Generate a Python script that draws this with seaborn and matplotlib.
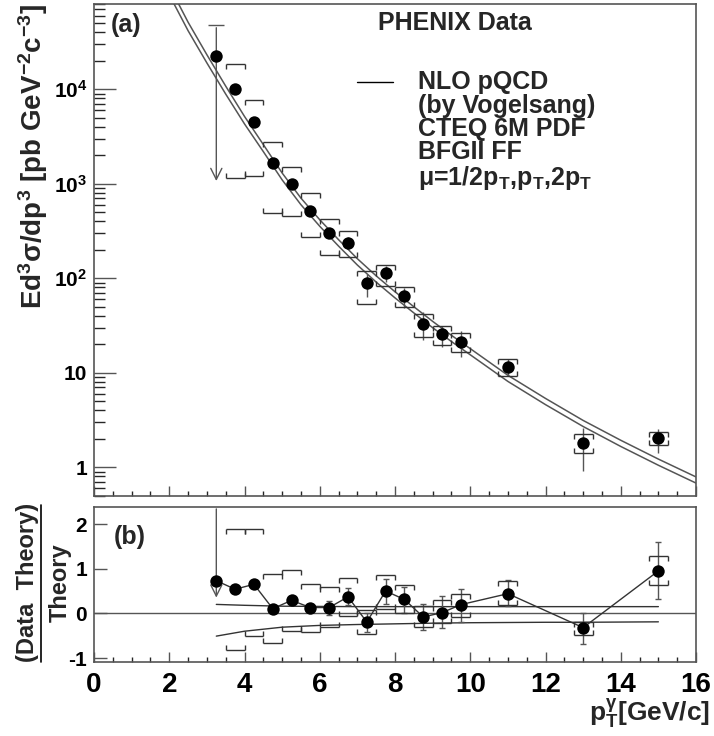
import numpy as np
import matplotlib
matplotlib.use("Agg")
import matplotlib.pyplot as plt
from matplotlib.ticker import LogLocator, MultipleLocator, FixedLocator, FixedFormatter, NullFormatter
from matplotlib.lines import Line2D
import seaborn as sns

# measured points (photon pT bins)
pt = [3.25, 3.75, 4.25, 4.75, 5.25, 5.75, 6.25, 6.75, 7.25, 7.75,
      8.25, 8.75, 9.25, 9.75, 11.0, 13.0, 15.0]
xsec = [22400, 10000, 4470, 1680, 1000, 520, 303, 238, 89, 114,
        65, 33, 25.7, 21, 11.5, 1.79, 2.02]
xsec_stat_lo = [1000, 9500, 4250, 1600, 950, 490, 270, 205, 64, 92,
                49, 22, 18.8, 14.8, 9.2, 0.92, 1.4]
xsec_stat_hi = [48000, 10500, 4700, 1760, 1050, 550, 335, 275, 110, 134,
                79, 44, 31, 27.6, 13.9, 2.6, 2.57]
xsec_sys_lo = [np.nan, 1140, 1200, 495, 460, 275, 178, 167, 54, 83,
               50, 24, 19.6, 16.6, 9.3, 1.4, 1.7]
xsec_sys_hi = [np.nan, 18400, 7650, 2740, 1490, 790, 420, 315, 120, 139,
               81, 42, 31, 26.4, 13.9, 2.24, 2.34]

# (data - theory) / theory
ratio = [0.73, 0.54, 0.65, 0.105, 0.29, 0.13, 0.13, 0.37, -0.195, 0.50,
         0.31, -0.08, 0.015, 0.195, 0.44, -0.32, 0.95]
ratio_stat_lo = [0.29, 0.49, 0.60, 0.06, 0.22, 0.06, -0.04, 0.18, -0.42, 0.22,
                 0.0, -0.38, -0.32, -0.195, 0.16, -0.68, 0.33]
ratio_stat_hi = [2.4, 0.59, 0.70, 0.15, 0.36, 0.20, 0.28, 0.57, 0.0, 0.76,
                 0.59, 0.22, 0.38, 0.55, 0.74, 0.0, 1.60]
ratio_sys_lo = [np.nan, -0.82, -0.51, -0.67, -0.40, -0.42, -0.31, -0.05, -0.47, 0.09,
                0.01, -0.31, -0.22, -0.08, 0.18, -0.48, 0.63]
ratio_sys_hi = [np.nan, 1.88, 1.88, 0.89, 0.98, 0.65, 0.58, 0.80, 0.08, 0.85,
                0.64, 0.16, 0.29, 0.44, 0.73, -0.195, 1.28]

# NLO pQCD curves
theory_x = [2.0, 2.5, 3.0, 3.5, 4.0, 4.5, 5.0, 5.5, 6.0, 6.5, 7.0, 7.5, 8.0,
            8.5, 9.0, 9.5, 10.0, 11.0, 12.0, 13.0, 14.0, 15.0, 16.0]
theory_mid = [100000, 41700, 19000, 8900, 4300, 2190, 1100, 600, 355, 219, 138, 91, 62,
              43, 30, 21.4, 15.5, 8.1, 4.6, 2.7, 1.66, 1.05, 0.68]
theory_up = [124000, 51300, 23200, 10800, 5160, 2600, 1300, 705, 416, 256, 161, 106, 72,
             50, 35, 24.9, 18, 9.4, 5.35, 3.13, 1.93, 1.22, 0.79]

# scale band relative to central theory
band_x = [3.25, 4, 5, 6, 7, 8, 9, 10, 11, 12, 13, 14, 15]
band_hi = [0.20, 0.18, 0.16, 0.155, 0.15, 0.15, 0.15, 0.15, 0.15, 0.15, 0.15, 0.15, 0.15]
band_lo = [-0.51, -0.40, -0.31, -0.27, -0.25, -0.235, -0.22, -0.21, -0.205, -0.2, -0.2, -0.195, -0.19]

ytick_vals = [1, 10, 100, 1000, 10000]
ytick_labels = ["1", "10", "$10^2$", "$10^3$", "$10^4$"]

sns.set_style("ticks")
plt.rcParams["font.family"] = ["Liberation Sans", "DejaVu Sans"]
plt.rcParams["font.weight"] = "bold"
plt.rcParams["axes.unicode_minus"] = False
plt.rcParams["mathtext.fontset"] = "custom"
plt.rcParams["mathtext.rm"] = "Liberation Sans:bold"
plt.rcParams["mathtext.bf"] = "Liberation Sans:bold"
plt.rcParams["mathtext.it"] = "Liberation Sans:bold"
plt.rcParams["mathtext.default"] = "rm"

GRAY = "#555555"
DARK = "#333333"
HW = 0.25


def brackets(ax, x, lo, hi):
    for xi, l, h in zip(x, lo, hi):
        if np.isnan(l):
            continue
        ax.hlines([l, h], xi - HW, xi + HW, color=DARK, lw=1.0, zorder=3)
        ax.plot([xi - HW, xi + HW], [h, h], ls="none", marker=3, ms=3.5, mew=1.0, color=DARK, zorder=3)
        ax.plot([xi - HW, xi + HW], [l, l], ls="none", marker=2, ms=3.5, mew=1.0, color=DARK, zorder=3)


def style_axes(ax):
    for s in ax.spines.values():
        s.set_color(GRAY)
        s.set_linewidth(1.2)
    ax.tick_params(colors=GRAY, labelcolor="black")


fig = plt.figure(figsize=(7.14, 7.36), dpi=100)
ax_a = fig.add_axes([0.1317, 0.3265, 0.8431, 0.6681])
ax_b = fig.add_axes([0.1317, 0.1005, 0.8431, 0.2106])

# ---- panel (a)
ax_a.set_yscale("log")
sns.lineplot(x=theory_x, y=theory_mid, ax=ax_a, color=GRAY, lw=1.1, estimator=None, sort=False)
sns.lineplot(x=theory_x, y=theory_up, ax=ax_a, color=GRAY, lw=1.1, estimator=None, sort=False)

ax_a.vlines(pt[1:], xsec_stat_lo[1:], xsec_stat_hi[1:], color=GRAY, lw=1.0, zorder=2)
ax_a.annotate("", xy=(pt[0], xsec_stat_lo[0]), xytext=(pt[0], xsec_stat_hi[0]),
              arrowprops=dict(arrowstyle="->", color=GRAY, lw=1.0, mutation_scale=20))
ax_a.plot([pt[0]], [xsec_stat_hi[0]], marker="_", ms=12, mew=1.0, color=GRAY)
brackets(ax_a, pt, xsec_sys_lo, xsec_sys_hi)
sns.scatterplot(x=pt, y=xsec, ax=ax_a, color="black", s=80, linewidth=0, zorder=5)

ax_a.set_xlim(0, 16)
ax_a.set_ylim(0.5, 8e4)
ax_a.yaxis.set_major_locator(FixedLocator(ytick_vals))
ax_a.yaxis.set_major_formatter(FixedFormatter(ytick_labels))
ax_a.yaxis.set_minor_locator(LogLocator(base=10, subs=np.arange(2, 10), numticks=20))
ax_a.yaxis.set_minor_formatter(NullFormatter())
ax_a.xaxis.set_major_locator(MultipleLocator(2))
ax_a.xaxis.set_minor_locator(MultipleLocator(0.5))
ax_a.tick_params(axis="y", which="major", direction="in", length=15.5, width=1.0, labelsize=15, pad=5)
ax_a.tick_params(axis="y", which="minor", direction="in", length=8, width=1.0)
ax_a.tick_params(axis="x", which="major", direction="in", length=7, width=1.0, labelbottom=False)
ax_a.tick_params(axis="x", which="minor", direction="in", length=3.6, width=1.0)
ax_a.set_xlabel("")
ax_a.set_ylabel("")
style_axes(ax_a)

ax_a.text(0.027, 0.957, "(a)", transform=ax_a.transAxes, fontsize=18, va="center", ha="left")
ax_a.text(0.472, 0.961, "PHENIX Data", transform=ax_a.transAxes, fontsize=18, va="center", ha="left")
ax_a.add_line(Line2D([0.437, 0.497], [0.841, 0.841], transform=ax_a.transAxes, color="black", lw=1.0))
legend_lines = ["NLO pQCD", "(by Vogelsang)", "CTEQ 6M PDF", "BFGII FF",
                "μ=1/2p$_T$,p$_T$,2p$_T$"]
legend_y = [0.841, 0.793, 0.745, 0.698, 0.646]
for txt, yy in zip(legend_lines, legend_y):
    ax_a.text(0.538, yy, txt, transform=ax_a.transAxes, fontsize=18, va="center", ha="left")

# ---- panel (b)
ax_b.axhline(0, color=GRAY, lw=1.0, zorder=1)
sns.lineplot(x=band_x, y=band_hi, ax=ax_b, color=DARK, lw=1.0, estimator=None, sort=False)
sns.lineplot(x=band_x, y=band_lo, ax=ax_b, color=DARK, lw=1.0, estimator=None, sort=False)
sns.lineplot(x=pt, y=ratio, ax=ax_b, color=DARK, lw=1.0, estimator=None, sort=False)

r = np.array(ratio)
ax_b.errorbar(pt[1:], r[1:], yerr=[r[1:] - np.array(ratio_stat_lo[1:]), np.array(ratio_stat_hi[1:]) - r[1:]],
              fmt="none", ecolor=GRAY, elinewidth=1.0, capsize=2.5, capthick=1.0, zorder=2)
ax_b.annotate("", xy=(pt[0], ratio_stat_lo[0]), xytext=(pt[0], ratio_stat_hi[0]),
              arrowprops=dict(arrowstyle="->", color=GRAY, lw=1.0, mutation_scale=20),
              annotation_clip=False)
brackets(ax_b, pt, ratio_sys_lo, ratio_sys_hi)
sns.scatterplot(x=pt, y=ratio, ax=ax_b, color="black", s=80, linewidth=0, zorder=5)

ax_b.set_xlim(0, 16)
ax_b.set_ylim(-1.09, 2.38)
ax_b.xaxis.set_major_locator(MultipleLocator(2))
ax_b.xaxis.set_minor_locator(MultipleLocator(0.5))
ax_b.yaxis.set_major_locator(MultipleLocator(1))
ax_b.tick_params(axis="y", which="major", direction="in", length=9.5, width=1.0, labelsize=15, pad=5)
ax_b.tick_params(axis="x", which="major", direction="in", length=7, width=1.0, labelsize=20, pad=7)
ax_b.tick_params(axis="x", which="minor", direction="in", length=3.6, width=1.0)
ax_b.set_xlabel("")
ax_b.set_ylabel("")
style_axes(ax_b)
ax_b.text(0.032, 0.806, "(b)", transform=ax_b.transAxes, fontsize=18, va="center", ha="left")

# ---- axis titles
fig.text(0.046, 0.788, "Ed$^3$σ/dp$^3$ [pb GeV$^{-2}$c$^{-3}$]", rotation=90,
         fontsize=20, ha="center", va="center")
fig.text(0.039, 0.208, "(Data  Theory)", rotation=90, fontsize=17, ha="center", va="center")
fig.add_artist(Line2D([0.0574, 0.0574], [0.1005, 0.314], transform=fig.transFigure, color="black", lw=1.2))
fig.text(0.084, 0.208, "Theory", rotation=90, fontsize=17, ha="center", va="center")
fig.text(0.994, 0.031, r"p$_T^{\gamma}$[GeV/c]", fontsize=19, ha="right", va="center")

fig.savefig("out.png", dpi=100)
